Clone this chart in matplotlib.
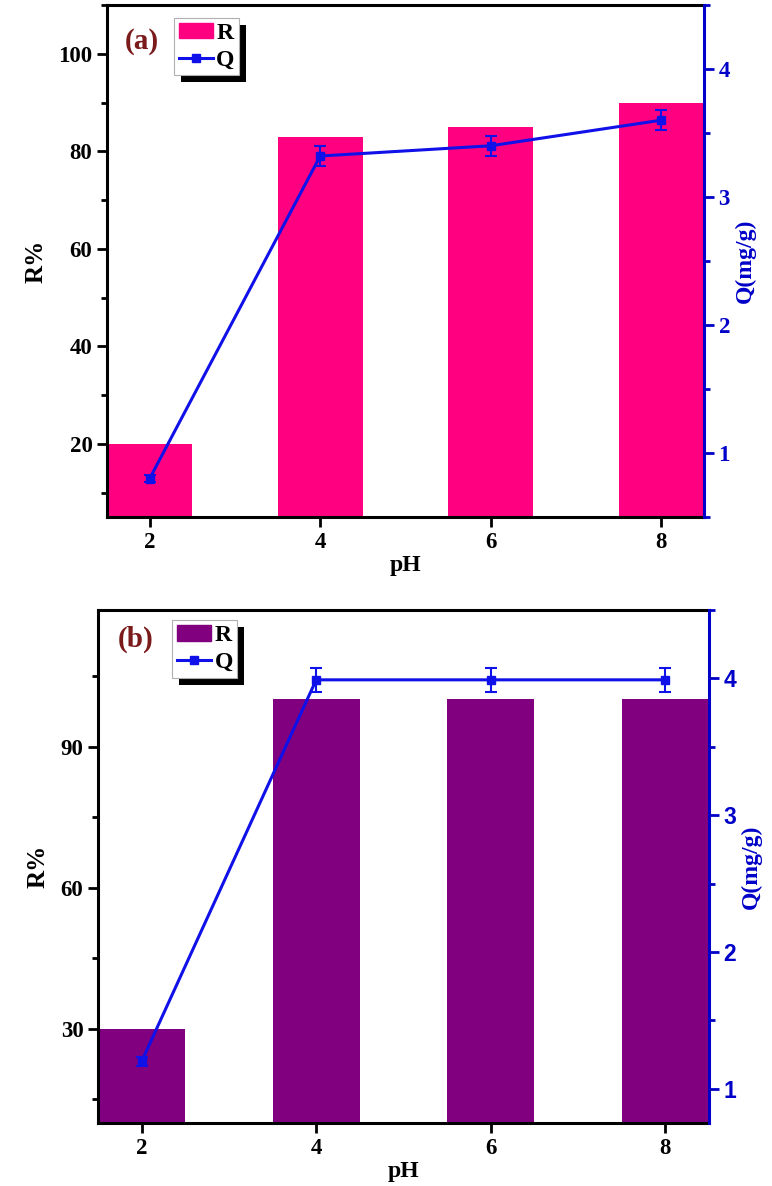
import numpy as np
import matplotlib
matplotlib.use('Agg')
import matplotlib.pyplot as plt
from matplotlib.patches import Rectangle
from matplotlib.lines import Line2D
from matplotlib.ticker import MultipleLocator
from matplotlib.transforms import IdentityTransform

plt.rcParams['font.family'] = 'Liberation Serif'
plt.rcParams['font.weight'] = 'bold'

# data
ph = [2, 4, 6, 8]
r_a = [20, 83, 85, 90]
q_a = [0.80, 3.32, 3.40, 3.60]
qerr_a = [0.03, 0.08, 0.08, 0.08]
r_b = [30, 100, 100, 100]
q_b = [1.20, 3.99, 3.99, 3.99]
qerr_b = [0.03, 0.09, 0.09, 0.09]

pink = '#FF0080'
purple = '#800080'
blue = '#1010E8'
axblue = '#0000C8'
darkred = '#7A1A1A'

fig = plt.figure(figsize=(7.72, 11.86), dpi=100)


def panel(rect, r, q, qerr, barcol, tag, rlim, rmaj, qlim, leg_xy, tag_xy, qfont):
    ax = fig.add_axes(rect)
    ax.bar(ph, r, width=1.0, color=barcol, zorder=1)
    ax.set_xlim(1.5, 8.5)
    ax.set_ylim(*rlim)
    ax.set_xticks(ph)
    ax.yaxis.set_major_locator(MultipleLocator(rmaj))
    ax.yaxis.set_minor_locator(MultipleLocator(rmaj / 2))
    ax.tick_params(axis='both', which='major', length=7, width=2, labelsize=16.5, direction='out')
    ax.tick_params(axis='y', which='minor', length=4, width=2, direction='out')
    for s in ['left', 'bottom', 'top']:
        ax.spines[s].set_linewidth(2.2)
    ax.spines['right'].set_visible(False)
    ax.set_xlabel('pH', fontsize=17, fontweight='bold', labelpad=2)
    ax.set_ylabel('R%', fontsize=18, fontweight='bold', labelpad=8)

    ax2 = ax.twinx()
    ax2.errorbar(ph, q, yerr=qerr, color=blue, lw=2.2, marker='s', ms=6,
                 capsize=4, capthick=1.5, elinewidth=1.5, zorder=3)
    ax2.set_ylim(*qlim)
    ax2.yaxis.set_major_locator(MultipleLocator(1))
    ax2.yaxis.set_minor_locator(MultipleLocator(0.5))
    ax2.tick_params(axis='y', which='major', length=7, width=2, colors=axblue, labelsize=16.5)
    ax2.tick_params(axis='y', which='minor', length=4, width=2, colors=axblue)
    for lab in ax2.get_yticklabels():
        lab.set_family(qfont)
    for s in ['left', 'bottom', 'top']:
        ax2.spines[s].set_visible(False)
    ax2.spines['right'].set_color(axblue)
    ax2.spines['right'].set_linewidth(2.2)
    ax2.set_ylabel('Q(mg/g)', fontsize=17, fontweight='bold', color=axblue, labelpad=3)

    ax2.text(tag_xy[0], tag_xy[1], tag, transform=ax.transAxes, fontsize=21,
             fontweight='bold', color=darkred, va='center', ha='left')

    handles = [Rectangle((0, 0), 1, 1, color=barcol),
               Line2D([], [], color=blue, lw=2.2, marker='s', ms=6)]
    leg = ax2.legend(handles, ['R', 'Q'], loc='upper left', bbox_to_anchor=leg_xy,
                     borderaxespad=0, fontsize=17, frameon=True, fancybox=False,
                     handlelength=1.45, handleheight=0.65, handletextpad=0.15,
                     borderpad=0.2, labelspacing=0.25, edgecolor='#B0B0B0', framealpha=1)
    leg.get_frame().set_linewidth(0.8)
    return ax, ax2, leg


_, a2, leg_a = panel([0.1386, 0.5641, 0.7733, 0.4317], r_a, q_a, qerr_a, pink, '(a)',
                     (5, 110), 20, (0.5, 4.5), (0.112, 0.975), (0.03, 0.928), 'Liberation Serif')
_, b2, leg_b = panel([0.1269, 0.0531, 0.7915, 0.4325], r_b, q_b, qerr_b, purple, '(b)',
                     (10, 119), 30, (0.75, 4.5), (0.121, 0.98), (0.033, 0.942), 'Liberation Sans')

# black offset shadow behind each legend
fig.canvas.draw()
for axx, leg in [(a2, leg_a), (b2, leg_b)]:
    bb = leg.get_window_extent()
    sh = Rectangle((bb.x0 + 7, bb.y0 - 7), bb.width, bb.height,
                   facecolor='black', edgecolor='none', zorder=4.5, clip_on=False)
    axx.add_patch(sh)
    sh.set_transform(IdentityTransform())
    leg.set_zorder(6)

fig.savefig('out.png', dpi=100)
